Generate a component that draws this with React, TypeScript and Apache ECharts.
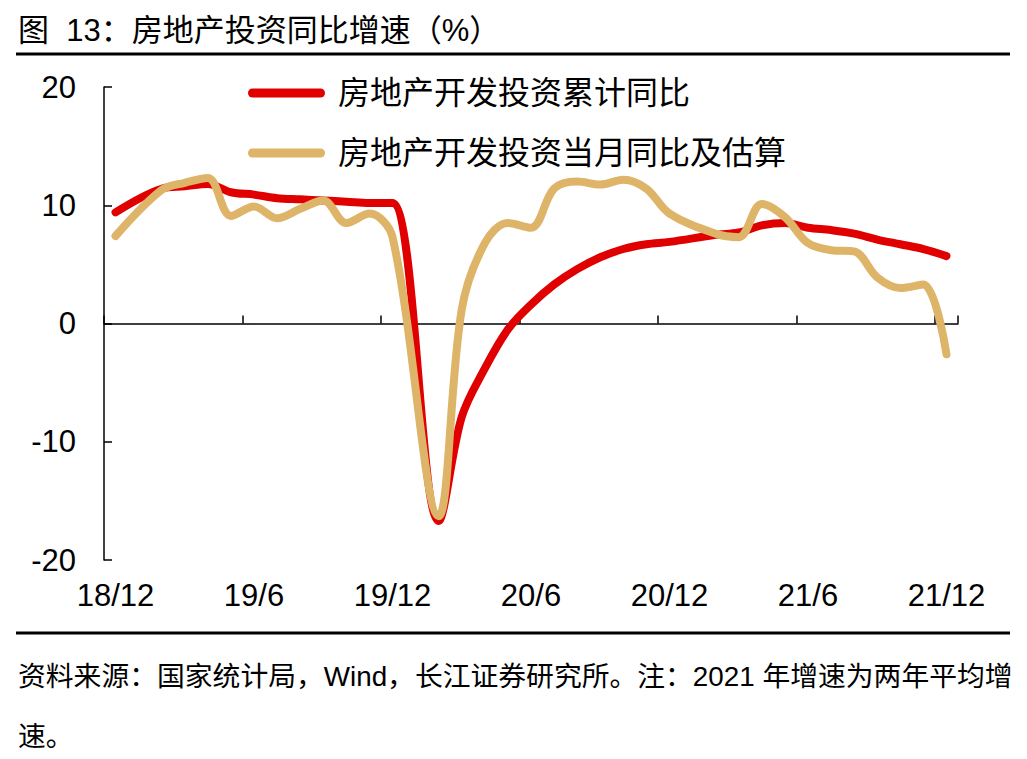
import React, { useEffect, useRef } from "react";
import * as echarts from "echarts";

const months = [
  "18/12", "19/1", "19/2", "19/3", "19/4", "19/5", "19/6", "19/7", "19/8", "19/9", "19/10", "19/11",
  "19/12", "20/1", "20/2", "20/3", "20/4", "20/5", "20/6", "20/7", "20/8", "20/9", "20/10", "20/11",
  "20/12", "21/1", "21/2", "21/3", "21/4", "21/5", "21/6", "21/7", "21/8", "21/9", "21/10", "21/11",
  "21/12",
];

const cumulative = [
  9.4, null, 11.4, 11.6, 11.8, 11.1, 10.9, 10.6, 10.5, 10.4, 10.3, 10.2,
  10.2, null, -16.7, -7.9, -3.8, -0.5, 1.6, 3.3, 4.6, 5.6, 6.3, 6.7,
  6.9, null, 7.5, 7.7, 8.3, 8.5, 8.1, 7.9, 7.6, 7.1, 6.7, 6.3,
  5.7,
];

const monthly = [
  7.4, null, 11.3, 11.9, 12.3, 9.1, 9.9, 8.9, 9.7, 10.4, 8.5, 9.3,
  7.3, null, -16.3, 1.2, 6.8, 8.5, 8.1, 11.4, 12.0, 11.75, 12.15, 11.4,
  9.3, null, 7.6, 7.3, 10.1, 9.0, 6.8, 6.2, 6.1, 3.9, 3.0, 3.3,
  -2.6,
];

const legendNames = ["房地产开发投资累计同比", "房地产开发投资当月同比及估算"];
const titleText = "图  13：房地产投资同比增速（%）";
const sourceLines = [
  "资料来源：国家统计局，Wind，长江证券研究所。注：2021 年增速为两年平均增",
  "速。",
];

const FONT = "'Liberation Sans', Arial, 'Noto Sans CJK SC', sans-serif";
const RED = "#E00000";
const TAN = "#DDB468";

export default function App() {
  const ref = useRef<HTMLDivElement>(null);

  useEffect(() => {
    if (!ref.current) return;
    const chart = echarts.init(ref.current, null, { renderer: "svg" });
    const axisLineStyle = { color: "#000", width: 1.5 };
    chart.setOption({
      animation: false,
      backgroundColor: "#fff",
      grid: { left: 104, right: 69, top: 87, bottom: 199, containLabel: false },
      legend: {
        orient: "vertical",
        left: 248,
        top: 77,
        padding: 0,
        itemWidth: 77,
        itemHeight: 9,
        itemGap: 28,
        icon: "path://M4.5,0H72.5A4.5,4.5,0,0,1,72.5,9H4.5A4.5,4.5,0,0,1,4.5,0Z",
        textStyle: { fontSize: 32, color: "#000", fontFamily: FONT, padding: [0, 0, 0, 8] },
        data: legendNames,
      },
      xAxis: [
        {
          type: "category",
          data: months,
          boundaryGap: true,
          position: "bottom",
          axisLine: { show: true, onZero: true, lineStyle: axisLineStyle },
          axisTick: { show: true, inside: true, length: 8, interval: 5, lineStyle: axisLineStyle },
          axisLabel: { show: false },
          splitLine: { show: false },
        },
        {
          type: "category",
          data: months,
          boundaryGap: true,
          position: "bottom",
          axisLine: { show: false, onZero: false },
          axisTick: { show: false },
          axisLabel: { interval: 5, margin: 20, fontSize: 31, color: "#000", fontFamily: FONT },
          splitLine: { show: false },
        },
      ],
      yAxis: {
        type: "value",
        min: -20,
        max: 20,
        interval: 10,
        axisLine: { show: true, onZero: false, lineStyle: axisLineStyle },
        axisTick: { show: true, inside: true, length: 8, lineStyle: axisLineStyle },
        axisLabel: { margin: 28, fontSize: 31, color: "#000", fontFamily: FONT },
        splitLine: { show: false },
      },
      series: [
        {
          name: legendNames[0],
          type: "line",
          xAxisIndex: 0,
          data: cumulative,
          smooth: 0.35,
          connectNulls: true,
          symbol: "none",
          color: RED,
          lineStyle: { width: 8, color: RED, cap: "round", join: "round" },
        },
        {
          name: legendNames[1],
          type: "line",
          xAxisIndex: 0,
          data: monthly,
          smooth: 0.35,
          connectNulls: true,
          symbol: "none",
          color: TAN,
          lineStyle: { width: 8, color: TAN, cap: "round", join: "round" },
        },
      ],
      graphic: [
        {
          type: "text",
          x: 18,
          y: 30,
          style: { text: titleText, fontSize: 31, fontFamily: FONT, fill: "#000", verticalAlign: "middle" },
        },
        {
          type: "line",
          shape: { x1: 16, y1: 54, x2: 1010, y2: 54 },
          style: { stroke: "#000", lineWidth: 3 },
        },
        {
          type: "line",
          shape: { x1: 16, y1: 633, x2: 1010, y2: 633 },
          style: { stroke: "#000", lineWidth: 3 },
        },
        {
          type: "text",
          x: 18,
          y: 676,
          style: { text: sourceLines[0], fontSize: 27.8, fontFamily: FONT, fill: "#000", verticalAlign: "middle" },
        },
        {
          type: "text",
          x: 18,
          y: 736,
          style: { text: sourceLines[1], fontSize: 27.8, fontFamily: FONT, fill: "#000", verticalAlign: "middle" },
        },
      ],
    });
    return () => chart.dispose();
  }, []);

  return (
    <div
      ref={ref}
      style={{ position: "fixed", left: 0, top: 0, width: 1027, height: 759, background: "#fff" }}
    />
  );
}
